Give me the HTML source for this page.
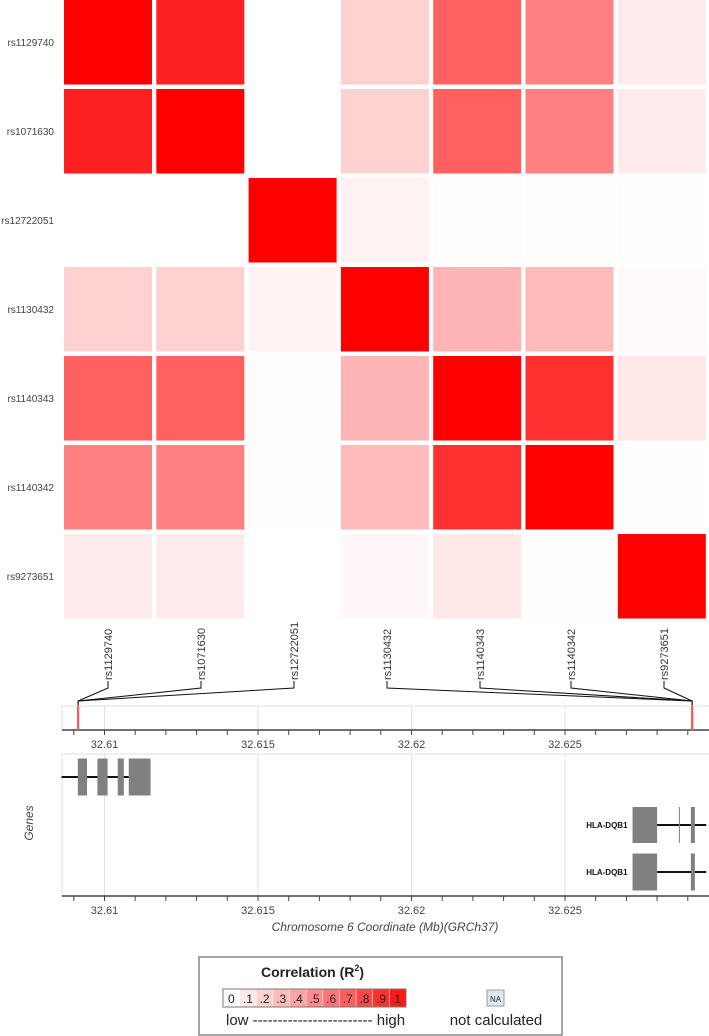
<!DOCTYPE html>
<html><head><meta charset="utf-8">
<style>
html,body{margin:0;padding:0;background:#fff;}
svg{display:block;font-family:"Liberation Sans",Arial,sans-serif;}
</style></head>
<body>
<svg id="chart" width="709" height="1036" viewBox="0 0 709 1036" xmlns="http://www.w3.org/2000/svg">
<g id="heat"></g>
<g id="snps"></g>
<g id="track"></g>
<g id="genes"></g>
<g id="legend">
  <rect x="199" y="957" width="363" height="78" fill="#fff" stroke="#888" stroke-width="1.5"/>
  <text x="261" y="977" font-size="14" font-weight="bold" fill="#222">Correlation  (R<tspan font-size="9" dy="-6">2</tspan><tspan dy="6">)</tspan></text>
  <g id="legbar"></g>
  <text x="226" y="1025" font-size="15" fill="#222">low ------------------------ high</text>
  <rect x="487" y="990" width="17" height="16" fill="#dde9ee" stroke="#999"/>
  <text x="495.5" y="1002" font-size="8" text-anchor="middle" fill="#333">NA</text>
  <text x="496" y="1025" font-size="15" text-anchor="middle" fill="#222">not calculated</text>
</g>
</svg>
<script>
const snps = ["rs1129740","rs1071630","rs12722051","rs1130432","rs1140343","rs1140342","rs9273651"];
const snpPos = [32.60914,32.60914,32.60914,32.62914,32.62914,32.62914,32.62914];
const r2 = [
 [1.00,0.87,0.00,0.18,0.62,0.50,0.08],
 [0.87,1.00,0.00,0.18,0.62,0.50,0.08],
 [0.00,0.00,1.00,0.05,0.01,0.01,0.01],
 [0.18,0.18,0.05,1.00,0.29,0.27,0.02],
 [0.62,0.62,0.01,0.29,1.00,0.81,0.09],
 [0.50,0.50,0.01,0.27,0.81,1.00,0.01],
 [0.08,0.08,0.00,0.03,0.09,0.01,1.00]
];
const majorTicks = [32.61,32.615,32.62,32.625];
const majorLabels = ["32.61","32.615","32.62","32.625"];
const minorTicks = [32.609,32.610,32.611,32.612,32.613,32.614,32.615,32.616,32.617,32.618,32.619,32.620,32.621,32.622,32.623,32.624,32.625,32.626,32.627,32.628,32.629];
const legendVals = [0,0.1,0.2,0.3,0.4,0.5,0.6,0.7,0.8,0.9,1];
const legendLabels = ["0",".1",".2",".3",".4",".5",".6",".7",".8",".9","1"];
const gene1Exons = [[32.60913,32.60943],[32.60977,32.61010],[32.61043,32.61063],[32.61079,32.61150]];
const gene1Line = [32.6086,32.61079];
const gene2Exons = [[32.62720,32.62800],[32.62871,32.62874],[32.62910,32.62923]];
const gene3Exons = [[32.62720,32.62800],[32.62910,32.62923]];
const geneLine2 = [32.62800,32.6296];

const NS="http://www.w3.org/2000/svg";
function el(tag,attrs,parent){const e=document.createElementNS(NS,tag);for(const k in attrs)e.setAttribute(k,attrs[k]);parent.appendChild(e);return e;}
const X = v => 104.5 + (v-32.61)*30700;
const col = i => 64 + i*92.3;
const row = j => j*89;
function color(v){const c=Math.round(255*(1-v));return `rgb(255,${c},${c})`;}

const heat=document.getElementById('heat');
r2.forEach((rw,j)=>{
  const t=el('text',{x:54,y:row(j)+46,'font-size':10,'text-anchor':'end',fill:'#444'},heat);
  t.textContent=snps[j];
  
  
  rw.forEach((v,i)=>{
    const r=el('rect',{x:col(i),y:row(j),width:88,height:84.5,fill:color(v)},heat);
    
    
  });
});

const sg=document.getElementById('snps');
const labelX=[108,201,294,387,480,571,664];
snps.forEach((s,i)=>{
  const lx=labelX[i];
  const t=el('text',{x:0,y:0,'font-size':11,fill:'#333',transform:`translate(${lx+4},680) rotate(-90)`},sg);
  t.textContent=s;
  
  
  const p=el('polyline',{points:`${lx},681 ${lx},688 ${X(snpPos[i])},701 ${X(snpPos[i])},706`,fill:'none',stroke:'#111','stroke-width':1},sg);
  
  
});

function axis(g,y0,y1,axisY,labelY){
  majorTicks.forEach(v=>{
    const l=el('line',{x1:X(v),x2:X(v),y1:y0,y2:y1,stroke:'#e2e2e2'},g);
    
    
  });
  const b=el('rect',{x:62,y:y0,width:650,height:y1-y0,fill:'none',stroke:'#e0e0e0'},g);
  
  
  const a=el('line',{x1:62,x2:709,y1:axisY,y2:axisY,stroke:'#444','stroke-width':1.5},g);
  
  
  minorTicks.forEach(v=>{
    const t=el('line',{x1:X(v),x2:X(v),y1:axisY,y2:axisY+5,stroke:'#444'},g);
    
    
  });
  majorTicks.forEach((v,i)=>{
    const t=el('text',{x:X(v),y:labelY,'font-size':11,'text-anchor':'middle',fill:'#444'},g);
    t.textContent=majorLabels[i];
    
    
  });
}
const tr=document.getElementById('track');
axis(tr,706,730,730,748);
snpPos.forEach(p=>{
  const l=el('line',{x1:X(p),x2:X(p),y1:706,y2:730,stroke:'#f55','stroke-width':2,opacity:0.8},tr);
  
  
});

const gg=document.getElementById('genes');
axis(gg,754,896,896,914);
const gl=el('text',{x:0,y:0,'font-size':12,'font-style':'italic',fill:'#444','text-anchor':'middle',transform:'translate(33,823) rotate(-90)'},gg);
gl.textContent='Genes';


const xt=el('text',{x:385,y:931,'font-size':12,'font-style':'italic',fill:'#444','text-anchor':'middle'},gg);
xt.textContent='Chromosome 6 Coordinate (Mb)(GRCh37)';


function gene(exons,line,yc,h,label){
  const l=el('line',{x1:X(line[0]),x2:X(line[1]),y1:yc,y2:yc,stroke:'#111','stroke-width':2},gg);
  
  
  exons.forEach(e=>{
    const r=el('rect',{x:X(e[0]),y:yc-h/2,width:Math.max(1,X(e[1])-X(e[0])),height:h,fill:'#808080'},gg);
    
    
  });
  if(label){
    const t=el('text',{x:X(exons[0][0])-5,y:yc+3,'font-size':8,'font-weight':'bold','text-anchor':'end',fill:'#111'},gg);
    t.textContent=label;
    
    
  }
}
gene(gene1Exons,gene1Line,777,37,null);
gene(gene2Exons,geneLine2,825,36,'HLA-DQB1');
gene(gene3Exons,geneLine2,872,37,'HLA-DQB1');

const lb=document.getElementById('legbar');
const lw=183/legendVals.length;
legendVals.forEach((v,i)=>{
  const r=el('rect',{x:223+i*lw,y:989,width:lw,height:18,fill:color(v*0.9),stroke:'#fff','stroke-width':0.5},lb);
  
  
  const t=el('text',{x:223+i*lw+lw/2,y:1003,'font-size':12,'text-anchor':'middle',fill:'#222'},lb);
  t.textContent=legendLabels[i];
  
  
});
const lbb=el('rect',{x:223,y:989,width:183,height:18,fill:'none',stroke:'#777'},lb);


</script>
</body></html>
